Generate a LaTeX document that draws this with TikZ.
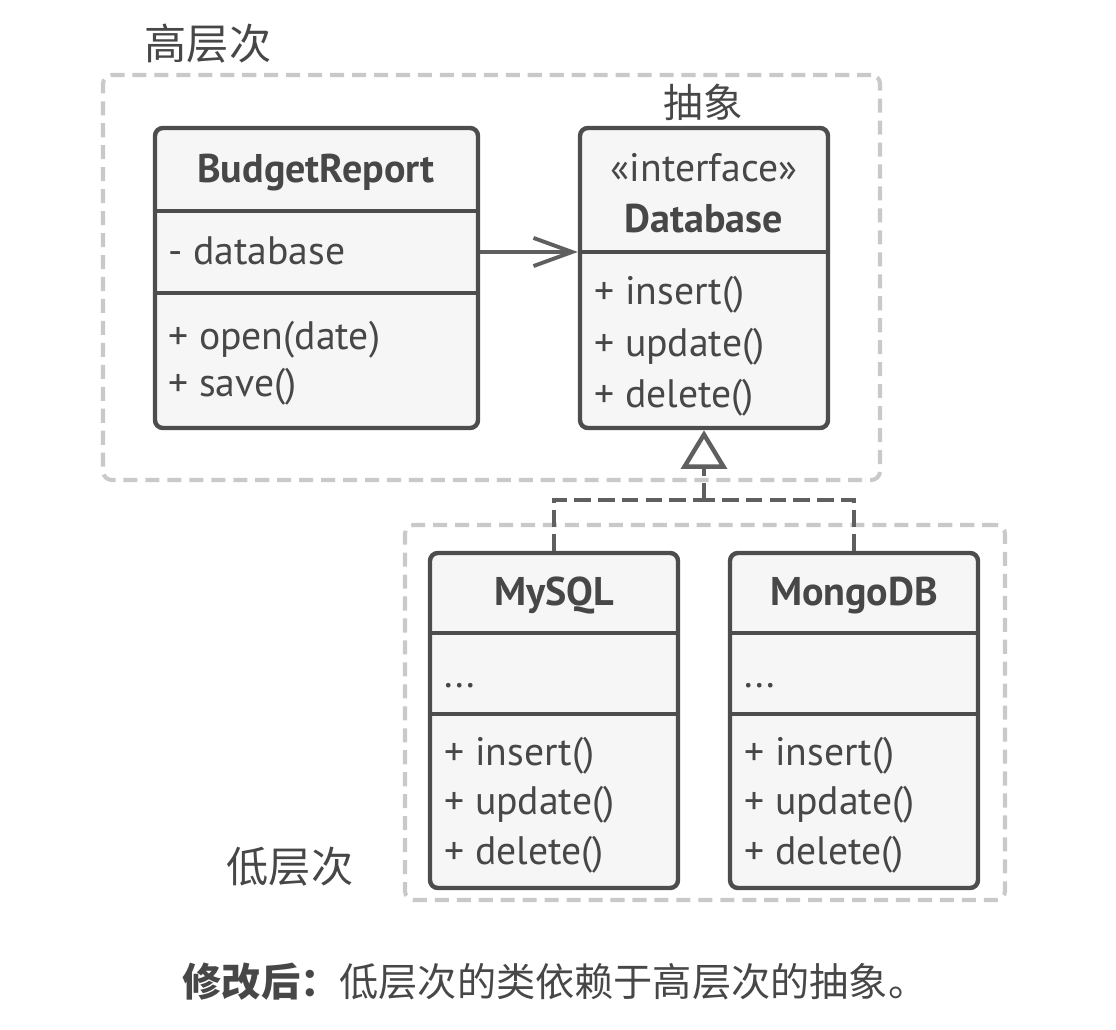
\documentclass[tikz,border=0pt]{standalone}
\usepackage{fontspec}
\setmainfont{PT Sans}
\newfontfamily\cjk{Noto Sans CJK SC}
\usetikzlibrary{arrows.meta,fit}
\definecolor{ink}{HTML}{474747}
\definecolor{frame}{HTML}{4D4D4D}
\definecolor{paper}{HTML}{F6F6F6}
\definecolor{layer}{HTML}{C9C9C9}
\definecolor{link}{HTML}{5F5F5F}

\begin{document}
\begin{tikzpicture}[x=0.02cm,y=-0.02cm,
    every node/.style={text=ink, inner sep=0pt},
    classbox/.style={draw=frame, fill=paper, line width=2.5pt, rounded corners=4.5pt},
    part/.style={draw=frame, line width=2.5pt},
    layerbox/.style={draw=layer, line width=2.3pt, dash pattern=on 8pt off 4.5pt, rounded corners=5pt},
    member/.style={anchor=base west, font=\fontsize{22.6}{27}\selectfont},
    title/.style={anchor=base, font=\fontsize{22.8}{27}\selectfont\bfseries},
    level/.style={font=\fontsize{24}{28}\selectfont\cjk},
    impl/.style={draw=link, line width=2.3pt, dash pattern=on 9.5pt off 4pt}]
    \useasboundingbox (0,0) rectangle (1116,1030);

    \node[layerbox, fit={(103,75) (880,480)}] (high) {};
    \node[layerbox, fit={(405,525) (1005,900)}] (low) {};
    \node[level] (highlabel) at (208,44) {高层次};
    \node[level] (lowlabel) at (290,867) {低层次};
    \node[level, font=\fontsize{22.5}{26}\selectfont\cjk] (abstract) at (703,102) {抽象};

    % classes
    \node[classbox, fit={(155,128) (478,428)}] (report) {};
    \draw[part] (report.west |- 0,211) -- (report.east |- 0,211);
    \draw[part] (report.west |- 0,293) -- (report.east |- 0,293);
    \node[title] (reportname) at (316,183) {BudgetReport};
    \node[member] at (168,265) {- database};
    \node[member] at (168,350) {+ open(date)};
    \node[member] at (168,397) {+ save()};

    \node[classbox, fit={(580,128) (828,428)}] (db) {};
    \draw[part] (db.west |- 0,252) -- (db.east |- 0,252);
    \node[member, anchor=base] at (704,182) {«interface»};
    \node[title] (dbname) at (704,233) {Database};
    \node[member] at (594,305) {+ insert()};
    \node[member] at (594,357) {+ update()};
    \node[member] at (594,408) {+ delete()};

    \node[classbox, fit={(430,553) (678,888)}] (mysql) {};
    \draw[part] (mysql.west |- 0,633) -- (mysql.east |- 0,633);
    \draw[part] (mysql.west |- 0,714) -- (mysql.east |- 0,714);
    \node[title] at (554,605) {MySQL};
    \node[member] at (444,687) {...};
    \node[member] at (444,765) {+ insert()};
    \node[member] at (444,814) {+ update()};
    \node[member] at (444,864) {+ delete()};

    \node[classbox, fit={(730,553) (978,888)}] (mongo) {};
    \draw[part] (mongo.west |- 0,633) -- (mongo.east |- 0,633);
    \draw[part] (mongo.west |- 0,714) -- (mongo.east |- 0,714);
    \node[title] at (854,605) {MongoDB};
    \node[member] at (744,687) {...};
    \node[member] at (744,765) {+ insert()};
    \node[member] at (744,814) {+ update()};
    \node[member] at (744,864) {+ delete()};

    % relations
    \draw[draw=link, line width=2.2pt, -{Straight Barb[length=22pt,width=16pt]}]
        (report.east |- 0,252) -- (db.west |- 0,252);
    \coordinate (joint) at (db.south |- 0,500);
    \draw[impl] (mysql.north) |- (joint);
    \draw[impl] (mongo.north) |- (joint);
    \draw[impl, -{Triangle[length=22pt,width=26pt,fill=white,line width=2.5pt]}]
        (joint) -- (db.south);

    \node (caption) at (555,982) {\fontsize{22.3}{26}\selectfont\cjk{\bfseries 修改后：}低层次的类依赖于高层次的抽象。};
\end{tikzpicture}
\end{document}
